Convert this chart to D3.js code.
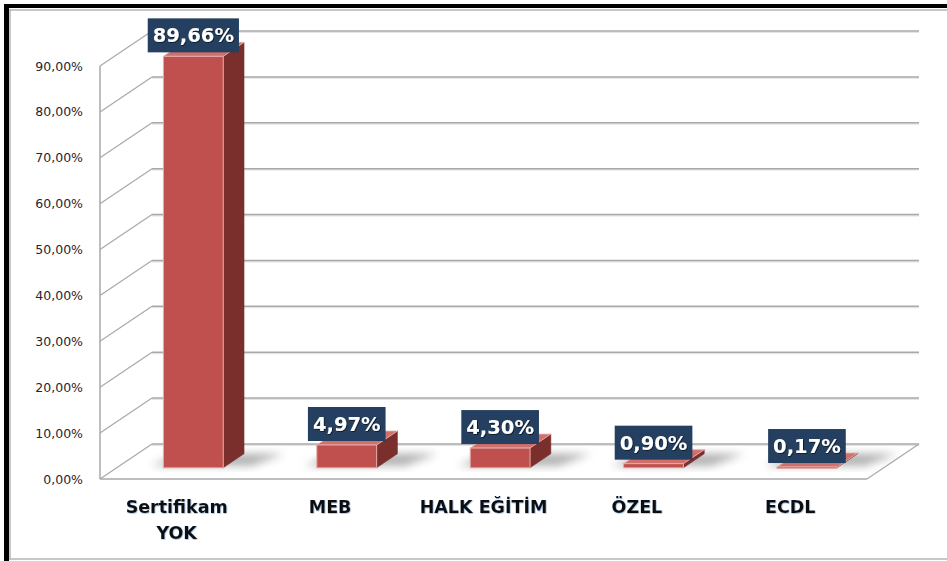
<!DOCTYPE html>
<html>
<head>
<meta charset="utf-8">
<script src="https://cdn.jsdelivr.net/npm/d3@7"></script>
<style>
  body { margin: 0; background: #fff; }
  svg { display: block; }
</style>
</head>
<body>
<svg id="chart"></svg>
<script>
// data
const categories = ['Sertifikam\nYOK', 'MEB', 'HALK EĞİTİM', 'ÖZEL', 'ECDL'];
const values = [89.66, 4.97, 4.30, 0.90, 0.17];
const yTicks = [0, 10, 20, 30, 40, 50, 60, 70, 80, 90];

const fmt = v => d3.format('.2f')(v).replace('.', ',') + '%';

const W = 947, H = 561;
const svg = d3.select('#chart').attr('width', W).attr('height', H);

// 3d depth of the floor (front -> back)
const depth = {dx: 52, dy: -35};
const barZ0 = 0.32, barZ1 = 0.72;

const x = d3.scaleBand().domain(categories).range([100, 867]).padding(0);
const y = d3.scaleLinear().domain([0, 90]).range([479, 66]);

const p = (px, py, z) => [px + z * depth.dx, py + z * depth.dy];

const defs = svg.append('defs');
defs.append('filter').attr('id', 'blur').attr('x', '-50%').attr('y', '-50%')
    .attr('width', '200%').attr('height', '200%')
  .append('feGaussianBlur').attr('stdDeviation', 4);
const ts = defs.append('filter').attr('id', 'tshadow');
ts.append('feDropShadow').attr('dx', 0.8).attr('dy', 0.8).attr('stdDeviation', 0.6)
  .attr('flood-color', '#000').attr('flood-opacity', 0.7);
const cs = defs.append('filter').attr('id', 'cshadow');
cs.append('feDropShadow').attr('dx', 0.6).attr('dy', 0.6).attr('stdDeviation', 0.5)
  .attr('flood-color', '#4a78b0').attr('flood-opacity', 0.6);

// frame
svg.append('rect').attr('x', 4).attr('y', 4).attr('width', W).attr('height', 4).attr('fill', '#000');
svg.append('rect').attr('x', 4).attr('y', 4).attr('width', 5).attr('height', H).attr('fill', '#000');
svg.append('line').attr('x1', 9).attr('x2', W).attr('y1', 10).attr('y2', 10).attr('stroke', '#b5b5b5').attr('stroke-width', 1.5);
svg.append('line').attr('x1', 10).attr('x2', 10).attr('y1', 9).attr('y2', 559).attr('stroke', '#b5b5b5').attr('stroke-width', 1.5);
svg.append('line').attr('x1', 9).attr('x2', W).attr('y1', 559).attr('y2', 559).attr('stroke', '#b5b5b5').attr('stroke-width', 1.5);

const g = svg.append('g');
const x0 = x.range()[0], x1 = x.range()[1];

// back wall gridlines + side wall slants
yTicks.forEach(t => {
  const a = p(x0, y(t), 1), b = p(x1, y(t), 1);
  g.append('line').attr('x1', a[0]).attr('y1', a[1] + 1.2).attr('x2', b[0]).attr('y2', b[1] + 1.2)
    .attr('stroke', '#e4e4e4').attr('stroke-width', 1.5);
  g.append('line').attr('x1', a[0]).attr('y1', a[1]).attr('x2', b[0]).attr('y2', b[1])
    .attr('stroke', '#a9a9a9').attr('stroke-width', 1.5);
  g.append('line').attr('x1', x0).attr('y1', y(t)).attr('x2', a[0]).attr('y2', a[1])
    .attr('stroke', '#a9a9a9').attr('stroke-width', 1.2);
});

// floor edges and front axis
const fr = p(x1, y(0), 1);
g.append('line').attr('x1', x0).attr('y1', y(0)).attr('x2', x1).attr('y2', y(0))
  .attr('stroke', '#a9a9a9').attr('stroke-width', 1.5);
g.append('line').attr('x1', x1).attr('y1', y(0)).attr('x2', fr[0]).attr('y2', fr[1])
  .attr('stroke', '#a9a9a9').attr('stroke-width', 1.2);
g.append('line').attr('x1', x0).attr('y1', y(0)).attr('x2', x0).attr('y2', y(90))
  .attr('stroke', '#a9a9a9').attr('stroke-width', 1.5);

// y tick labels
g.selectAll('.ytick').data(yTicks).join('text')
  .attr('class', 'ytick')
  .attr('x', 83).attr('y', d => y(d))
  .attr('dy', '0.36em')
  .attr('text-anchor', 'end')
  .attr('font-family', 'DejaVu Sans')
  .attr('font-size', 12.5)
  .attr('fill', '#1f2630')
  .text(d => fmt(d));

// bars
const bw = x.bandwidth() * 0.39;
const bars = categories.map((c, i) => {
  const cx = x(c) + x.bandwidth() / 2;
  const fl = p(cx - bw / 2, y(0), barZ0), frt = p(cx + bw / 2, y(0), barZ0);
  const tl = p(cx - bw / 2, y(values[i]), barZ0), tr = p(cx + bw / 2, y(values[i]), barZ0);
  const dz = barZ1 - barZ0;
  const off = [dz * depth.dx, dz * depth.dy];
  return {c, v: values[i], fl, frt, tl, tr, off};
});

// floor shadows
g.selectAll('.shadow').data(bars).join('polygon')
  .attr('class', 'shadow')
  .attr('points', d => [
    [d.fl[0] - 12, d.fl[1] - 2], [d.frt[0] + 28, d.frt[1] - 2],
    [d.frt[0] + d.off[0] + 40, d.frt[1] + d.off[1]], [d.fl[0] + d.off[0] - 4, d.fl[1] + d.off[1]]
  ].map(q => q.join(',')).join(' '))
  .attr('fill', '#6f6f6f').attr('opacity', 0.55)
  .attr('filter', 'url(#blur)');

const barG = g.selectAll('.bar').data(bars).join('g').attr('class', 'bar');
// side face
barG.append('polygon')
  .attr('points', d => [d.frt, d.tr, [d.tr[0] + d.off[0], d.tr[1] + d.off[1]], [d.frt[0] + d.off[0], d.frt[1] + d.off[1]]]
    .map(q => q.join(',')).join(' '))
  .attr('fill', '#7a2f2d').attr('stroke', '#7a2f2d').attr('stroke-width', 0.5);
// top face
barG.append('polygon')
  .attr('points', d => [d.tl, d.tr, [d.tr[0] + d.off[0], d.tr[1] + d.off[1]], [d.tl[0] + d.off[0], d.tl[1] + d.off[1]]]
    .map(q => q.join(',')).join(' '))
  .attr('fill', '#d0706d').attr('stroke', '#e8b4b2').attr('stroke-width', 0.8);
// front face
barG.append('rect')
  .attr('x', d => d.tl[0]).attr('y', d => d.tl[1])
  .attr('width', bw).attr('height', d => Math.max(d.fl[1] - d.tl[1], 1.5))
  .attr('fill', '#c0504d').attr('stroke', '#e6aaa8').attr('stroke-width', 1);

// value labels
const lab = g.selectAll('.vlab').data(bars).join('g').attr('class', 'vlab');
lab.each(function(d) {
  const s = d3.select(this);
  const cx = (d.tl[0] + d.tr[0]) / 2;
  const bottom = d.tl[1] - 4;
  const t = s.append('text')
    .attr('x', cx).attr('y', bottom - 17)
    .attr('dy', '0.36em')
    .attr('text-anchor', 'middle')
    .attr('font-family', 'DejaVu Sans')
    .attr('font-weight', 'bold')
    .attr('font-size', 19.5)
    .attr('fill', '#fff')
    .attr('filter', 'url(#tshadow)')
    .text(fmt(d.v));
  const w = t.node().getComputedTextLength() + 10;
  s.insert('rect', 'text')
    .attr('x', cx - w / 2).attr('y', bottom - 34)
    .attr('width', w).attr('height', 34)
    .attr('fill', '#243f60');
});

// category labels
g.selectAll('.xlab').data(categories).join('text')
  .attr('class', 'xlab')
  .attr('x', d => x(d) + x.bandwidth() / 2)
  .attr('y', 513)
  .attr('text-anchor', 'middle')
  .attr('font-family', 'DejaVu Sans')
  .attr('font-weight', 'bold')
  .attr('font-size', 17.5)
  .attr('fill', '#111')
  .attr('filter', 'url(#cshadow)')
  .each(function(d) {
    const s = d3.select(this);
    d.split('\n').forEach((line, i) => {
      s.append('tspan').attr('x', x(d) + x.bandwidth() / 2).attr('dy', i ? 26 : 0).text(line);
    });
  });
</script>
</body>
</html>
